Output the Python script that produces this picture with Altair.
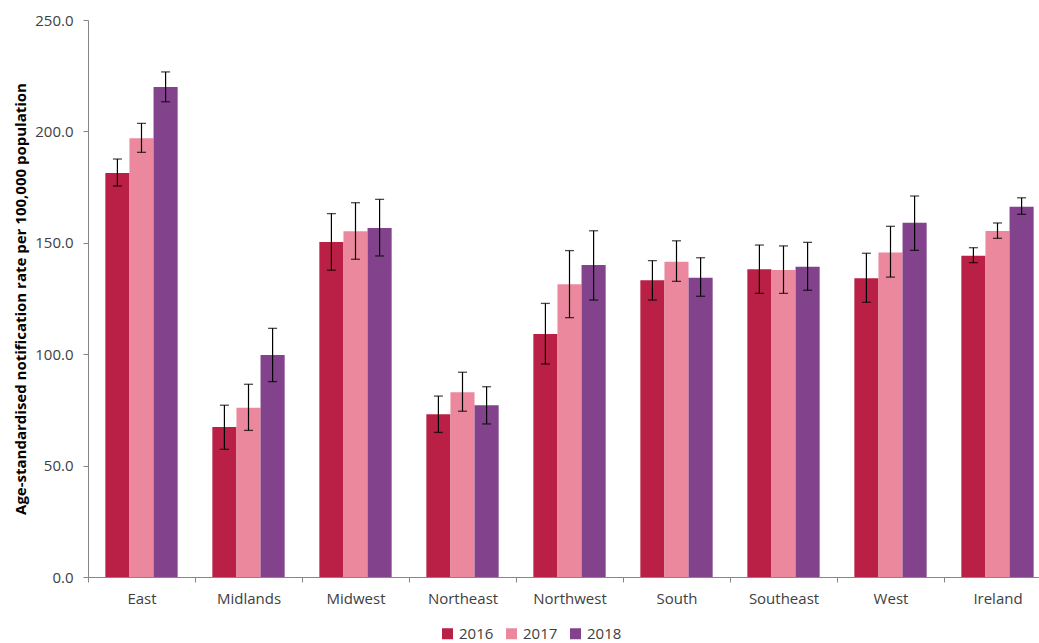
import altair as alt
import pandas as pd

regions = ["East", "Midlands", "Midwest", "Northeast", "Northwest",
           "South", "Southeast", "West", "Ireland"]
years = ["2016", "2017", "2018"]

# Age-standardised notification rate per 100,000, by year
rate_2016 = [181.3, 67.3, 150.4, 73.0, 109.1, 133.2, 138.1, 134.1, 144.2]
rate_2017 = [196.9, 76.0, 155.2, 82.9, 131.4, 141.5, 137.8, 145.7, 155.3]
rate_2018 = [219.9, 99.6, 156.6, 77.1, 140.0, 134.3, 139.3, 159.0, 166.2]

# 95% confidence limits
low_2016 = [175.5, 57.3, 137.7, 64.9, 95.6, 124.3, 127.3, 123.3, 141.1]
high_2016 = [187.6, 77.1, 163.1, 81.2, 122.8, 142.0, 149.0, 145.3, 147.8]
low_2017 = [190.6, 65.8, 142.6, 74.4, 116.4, 132.7, 127.3, 134.6, 152.0]
high_2017 = [203.6, 86.5, 168.0, 91.9, 146.5, 150.9, 148.6, 157.4, 158.9]
low_2018 = [213.3, 87.7, 144.1, 68.7, 124.3, 126.0, 128.7, 146.6, 162.8]
high_2018 = [226.7, 111.6, 169.5, 85.4, 155.4, 143.3, 150.2, 171.0, 170.2]

colors = ["#BA1F45", "#EB889E", "#82428C"]

rows = []
for yr, vals, lo, hi in [("2016", rate_2016, low_2016, high_2016),
                         ("2017", rate_2017, low_2017, high_2017),
                         ("2018", rate_2018, low_2018, high_2018)]:
    for r, v, l, h in zip(regions, vals, lo, hi):
        rows.append({"region": r, "year": yr, "rate": v, "low": l, "high": h})
df = pd.DataFrame(rows)

FONT = "Open Sans"

# the category axis runs slightly past the right edge of the view
x_scale = alt.Scale(paddingInner=0, paddingOuter=0, range=[0, 963])

x = alt.X("region:N", sort=regions, title=None, scale=x_scale,
          axis=alt.Axis(labelAngle=0, tickBand="extent", tickSize=5,
                        domainColor="#868686", tickColor="#868686",
                        labelColor="#404040", labelFontSize=15, labelFont=FONT,
                        labelPadding=9))
xo = alt.XOffset("year:N", sort=years,
                 scale=alt.Scale(paddingInner=0, paddingOuter=0.72))

bars = alt.Chart(df).mark_bar().encode(
    x=x,
    xOffset=xo,
    y=alt.Y("rate:Q", title="Age-standardised notification rate per 100,000 population",
            scale=alt.Scale(domain=[0, 250], nice=False),
            axis=alt.Axis(values=[0, 50, 100, 150, 200, 250], format=".1f",
                          grid=False, tickSize=5, domainColor="#868686",
                          tickColor="#868686", labelColor="#404040",
                          labelFontSize=15, labelFont=FONT, labelPadding=10,
                          titleFont=FONT, titleFontSize=15, titleFontWeight="bold",
                          titleColor="#000000", titlePadding=6)),
    color=alt.Color("year:N", sort=years,
                    scale=alt.Scale(domain=years, range=colors),
                    legend=alt.Legend(title=None, orient="none", direction="horizontal",
                                      legendX=352, legendY=606, symbolType="square",
                                      symbolSize=121, symbolStrokeWidth=0,
                                      labelFontSize=15, labelFont=FONT,
                                      labelColor="#404040", columnPadding=10,
                                      labelOffset=4)),
)

whisker = alt.Chart(df).mark_rule(color="#000000", strokeWidth=1.2).encode(
    x=alt.X("region:N", sort=regions, scale=x_scale), xOffset=xo,
    y="low:Q", y2="high:Q",
)
cap_low = alt.Chart(df).mark_tick(color="#000000", thickness=1.3, size=9,
                                  orient="horizontal").encode(
    x=alt.X("region:N", sort=regions, scale=x_scale), xOffset=xo, y="low:Q",
)
cap_high = alt.Chart(df).mark_tick(color="#000000", thickness=1.3, size=9,
                                   orient="horizontal").encode(
    x=alt.X("region:N", sort=regions, scale=x_scale), xOffset=xo, y="high:Q",
)

chart = alt.layer(bars, whisker, cap_low, cap_high).properties(
    width=949, height=557,
    autosize=alt.AutoSizeParams(type="none"),
    padding={"left": 88, "top": 20, "right": 2, "bottom": 66},
    background="#ffffff",
).configure_view(stroke=None)

chart.save("out.html", embed_options={"renderer": "svg", "actions": False})
